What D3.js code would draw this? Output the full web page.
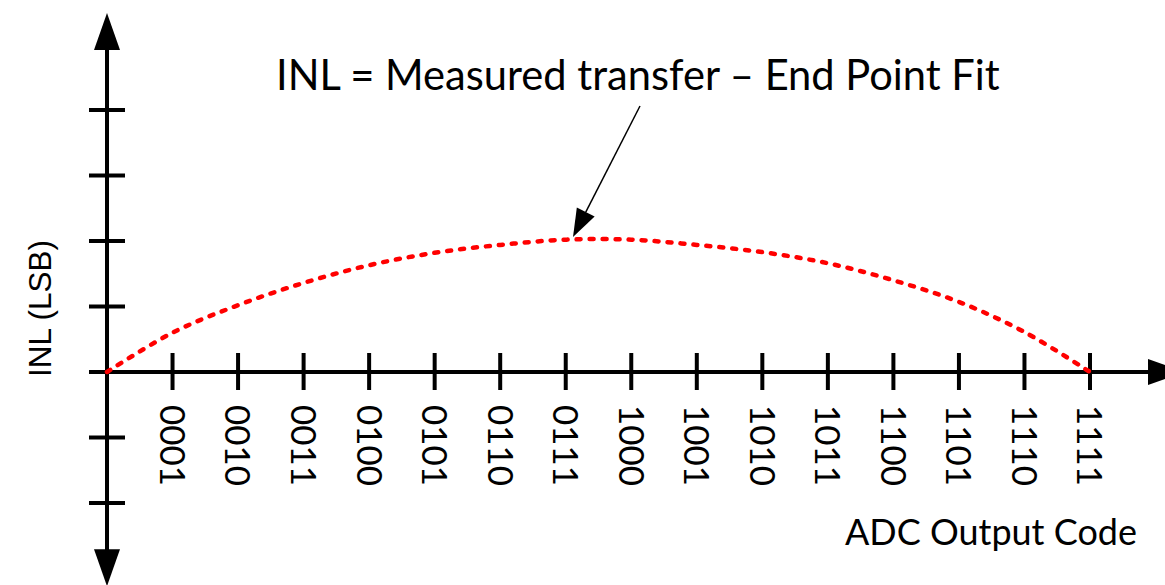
<!DOCTYPE html>
<html>
<head>
<meta charset="utf-8">
<script src="https://cdn.jsdelivr.net/npm/d3@7"></script>
<style>
  html, body { margin: 0; padding: 0; background: #fff; overflow: hidden; }
  svg { display: block; }
</style>
</head>
<body>
<svg id="chart" width="1165" height="585"></svg>
<script>
// ADC output codes along the horizontal axis
const codes = ["0000", "0001", "0010", "0011", "0100", "0101", "0110", "0111",
               "1000", "1001", "1010", "1011", "1100", "1101", "1110", "1111"];
// INL of the measured transfer against the end-point fit, in LSB
const inl = [0, 0.60, 1.02, 1.36, 1.63, 1.82, 1.94, 2.02,
             2.02, 1.94, 1.83, 1.66, 1.40, 1.07, 0.61, 0];
// Tick positions on the INL axis (LSB)
const yTicks = [-2, -1, 0, 1, 2, 3, 4];

const titleText = "INL = Measured transfer \u2013 End Point Fit";
const xTitle = "ADC Output Code";
const yTitle = "INL (LSB)";

const svg = d3.select("#chart");
const FONT = "Lato, 'Open Sans', sans-serif";

const x = d3.scaleLinear().domain([0, codes.length - 1]).range([107, 1090]);
const y = d3.scaleLinear().domain([0, 1]).range([372, 306.5]);

const x0 = x(0), y0 = y(0);
const tickHalf = 18;
const axisW = 4;

// Fit a text element to a target width by scaling its font size
function fitText(sel, width) {
  sel.attr("font-size", 100);
  const w = sel.node().getComputedTextLength();
  sel.attr("font-size", 100 * width / w);
  return sel;
}

// Axes
const axes = svg.append("g").attr("stroke", "#000").attr("stroke-width", axisW);
axes.append("line")
  .attr("x1", x0).attr("x2", x0)
  .attr("y1", y(5.2)).attr("y2", y(-3.0));
axes.append("line")
  .attr("x1", x0 - tickHalf).attr("x2", x(16.0))
  .attr("y1", y0).attr("y2", y0);

// Horizontal ticks on the INL axis
axes.selectAll(".ytick").data(yTicks).join("line")
  .attr("class", "ytick")
  .attr("x1", x0 - tickHalf).attr("x2", x0 + tickHalf)
  .attr("y1", d => y(d)).attr("y2", d => y(d));

// Vertical ticks on the code axis
const codeIdx = d3.range(1, codes.length);
axes.selectAll(".xtick").data(codeIdx).join("line")
  .attr("class", "xtick")
  .attr("x1", d => x(d)).attr("x2", d => x(d))
  .attr("y1", y0 - 19).attr("y2", y0 + 18);

// Arrowheads at the axis ends
const headL = 37, headW = 13;
const yTopTip = y(5.48), yBotTip = y(-3.27), xRightTip = x(16.45);
svg.append("path").attr("fill", "#000")
  .attr("d", `M${x0},${yTopTip} L${x0 - headW},${yTopTip + headL} L${x0 + headW},${yTopTip + headL} Z`);
svg.append("path").attr("fill", "#000")
  .attr("d", `M${x0},${yBotTip} L${x0 - headW},${yBotTip - headL} L${x0 + headW},${yBotTip - headL} Z`);
svg.append("path").attr("fill", "#000")
  .attr("d", `M${xRightTip},${y0} L${xRightTip - headL},${y0 - headW} L${xRightTip - headL},${y0 + headW} Z`);

// Code labels, rotated to read downward
const labels = svg.append("g").attr("font-family", FONT).attr("fill", "#000");
const lbl = labels.selectAll("text").data(codeIdx).join("text")
  .attr("transform", d => `translate(${x(d)},${y0 + 33}) rotate(90)`)
  .attr("dy", "0.36em")
  .attr("text-anchor", "start")
  .text(d => codes[d]);
// size the labels so a code spans ~80px
{
  const probe = lbl.filter((d, i) => i === 0);
  fitText(probe, 81);
  lbl.attr("font-size", probe.attr("font-size"));
}

// INL curve
const line = d3.line()
  .x((d, i) => x(i))
  .y(d => y(d))
  .curve(d3.curveCatmullRom.alpha(0.5));
svg.append("path")
  .datum(inl)
  .attr("fill", "none")
  .attr("stroke", "#ff0000")
  .attr("stroke-width", 4.5)
  .attr("stroke-linecap", "round")
  .attr("stroke-dasharray", "4 9")
  .attr("d", line);

// Annotation title and pointer
const title = svg.append("text")
  .attr("x", 276).attr("y", 90)
  .attr("font-family", FONT)
  .attr("fill", "#000")
  .text(titleText);
fitText(title, 724);

const tip = [573, 237], tail = [640, 106];
const ang = Math.atan2(tail[1] - tip[1], tail[0] - tip[0]);
const aL = 28, aW = 10;
const bx = tip[0] + aL * Math.cos(ang), by = tip[1] + aL * Math.sin(ang);
svg.append("line")
  .attr("x1", tail[0]).attr("y1", tail[1])
  .attr("x2", bx).attr("y2", by)
  .attr("stroke", "#000").attr("stroke-width", 1.5);
svg.append("path").attr("fill", "#000")
  .attr("d", `M${tip[0]},${tip[1]}
              L${bx - aW * Math.sin(ang)},${by + aW * Math.cos(ang)}
              L${bx + aW * Math.sin(ang)},${by - aW * Math.cos(ang)} Z`);

// Axis titles
const xt = svg.append("text")
  .attr("x", 845).attr("y", 545)
  .attr("font-family", FONT).attr("fill", "#000")
  .text(xTitle);
fitText(xt, 292);

const yt = svg.append("text")
  .attr("transform", `translate(51,${308.5}) rotate(-90)`)
  .attr("text-anchor", "middle")
  .attr("font-family", "'Liberation Sans', Arial, sans-serif").attr("fill", "#000")
  .text(yTitle);
fitText(yt, 137);
</script>
</body>
</html>
